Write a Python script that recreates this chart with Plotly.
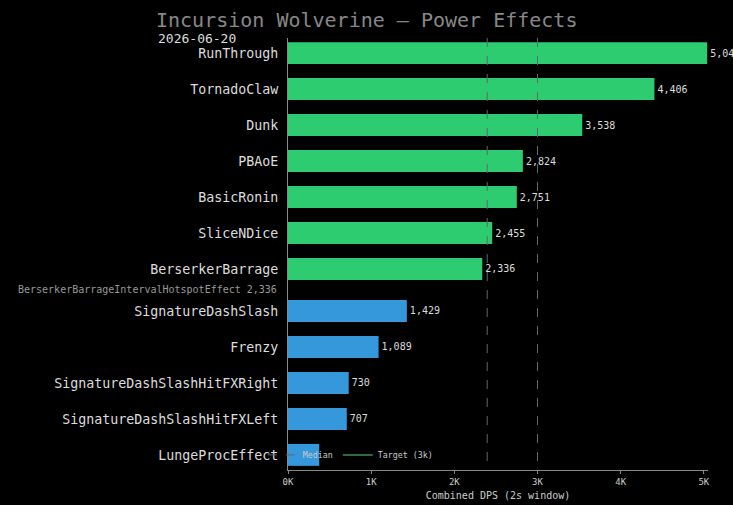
import plotly.graph_objects as go

title = "Incursion Wolverine — Power Effects"
subtitle = "2026-06-20"

green_names = ["RunThrough", "TornadoClaw", "Dunk", "PBAoE", "BasicRonin", "SliceNDice", "BerserkerBarrage"]
green_vals = [5040, 4406, 3538, 2824, 2751, 2455, 2336]
blue_names = ["SignatureDashSlash", "Frenzy", "SignatureDashSlashHitFXRight", "SignatureDashSlashHitFXLeft", "LungeProcEffect"]
blue_vals = [1429, 1089, 730, 707, 375]
# value label of the last bar is hidden under the legend in the reference
blue_labels_shown = [True, True, True, True, False]
sub_label = "BerserkerBarrageIntervalHotspotEffect 2,336"
median_val = 2395
target_val = 3000
x_ticks = [0, 1000, 2000, 3000, 4000, 5000]
x_ticktext = ["0K", "1K", "2K", "3K", "4K", "5K"]

GAP = 1 / 6  # extra row gap between groups
green_pos = list(range(len(green_names)))
blue_pos = [len(green_names) + GAP + i for i in range(len(blue_names))]

FONT = "DejaVu Sans Mono"
GREEN = "#2ecc71"
BLUE = "#3498db"

fig = go.Figure()
groups = [
    (green_names, green_vals, green_pos, GREEN, [True] * len(green_vals)),
    (blue_names, blue_vals, blue_pos, BLUE, blue_labels_shown),
]
for names, vals, pos, col, shown in groups:
    fig.add_trace(go.Bar(
        x=vals, y=pos, orientation="h", marker=dict(color=col, line=dict(width=0)),
        text=[f"{v:,}" if s else "" for v, s in zip(vals, shown)],
        textposition="outside", cliponaxis=False,
        textfont=dict(family=FONT, size=10, color="#dddddd"), showlegend=False,
        width=0.61,
    ))

ymax = blue_pos[-1] + 0.42
ymin = -0.42
fig.add_trace(go.Scatter(x=[median_val, median_val], y=[ymin, ymax], mode="lines",
                         line=dict(color="#666666", width=1, dash="dash"), name="Median"))
fig.add_trace(go.Scatter(x=[target_val, target_val], y=[ymin, ymax], mode="lines",
                         line=dict(color="#666666", width=1, dash="dash"), name="Target (3k)",
                         showlegend=False))
fig.add_trace(go.Scatter(x=[None], y=[None], mode="lines",
                         line=dict(color="#2d6a3e", width=2), name="Target (3k)"))

fig.add_annotation(x=-0.022, xref="paper", y=green_pos[-1] + 0.58, yref="y", text=sub_label,
                   showarrow=False, xanchor="right", yanchor="middle",
                   font=dict(family=FONT, size=10, color="#999999"))
fig.add_annotation(x=-0.314, xref="paper", y=1.0, yref="paper", text=subtitle,
                   showarrow=False, xanchor="left", yanchor="middle",
                   font=dict(family=FONT, size=13, color="#dddddd"))

fig.update_layout(
    width=733, height=505,
    paper_bgcolor="#000000", plot_bgcolor="#000000",
    margin=dict(l=288, r=25, t=38, b=35),
    title=dict(text=title, x=156 / 733, xanchor="left", y=0.96, yanchor="middle",
               font=dict(family=FONT, size=20, color="#888888")),
    bargap=0.39,
    showlegend=True,
    legend=dict(orientation="h", x=-0.06, xanchor="left", y=0.035, yanchor="middle",
                bgcolor="rgba(0,0,0,0)", font=dict(family=FONT, size=8.3, color="#cccccc"),
                itemwidth=30),
    xaxis=dict(range=[0, 5050], tickvals=x_ticks, ticktext=x_ticktext, showgrid=False, zeroline=False,
               showline=True, linecolor="#888888", linewidth=1, ticks="outside", ticklen=3, tickcolor="#888888",
               tickfont=dict(family=FONT, size=9, color="#cccccc"), automargin=False,
               title=dict(text="Combined DPS (2s window)", font=dict(family=FONT, size=10, color="#cccccc"), standoff=6)),
    yaxis=dict(range=[ymax, ymin], tickvals=green_pos + blue_pos, ticktext=green_names + blue_names,
               showgrid=False, zeroline=False, showline=True, linecolor="#888888", linewidth=1,
               ticks="", ticklabelstandoff=6, automargin=False,
               tickfont=dict(family=FONT, size=13.3, color="#dddddd")),
)

fig.write_html("out.html")
